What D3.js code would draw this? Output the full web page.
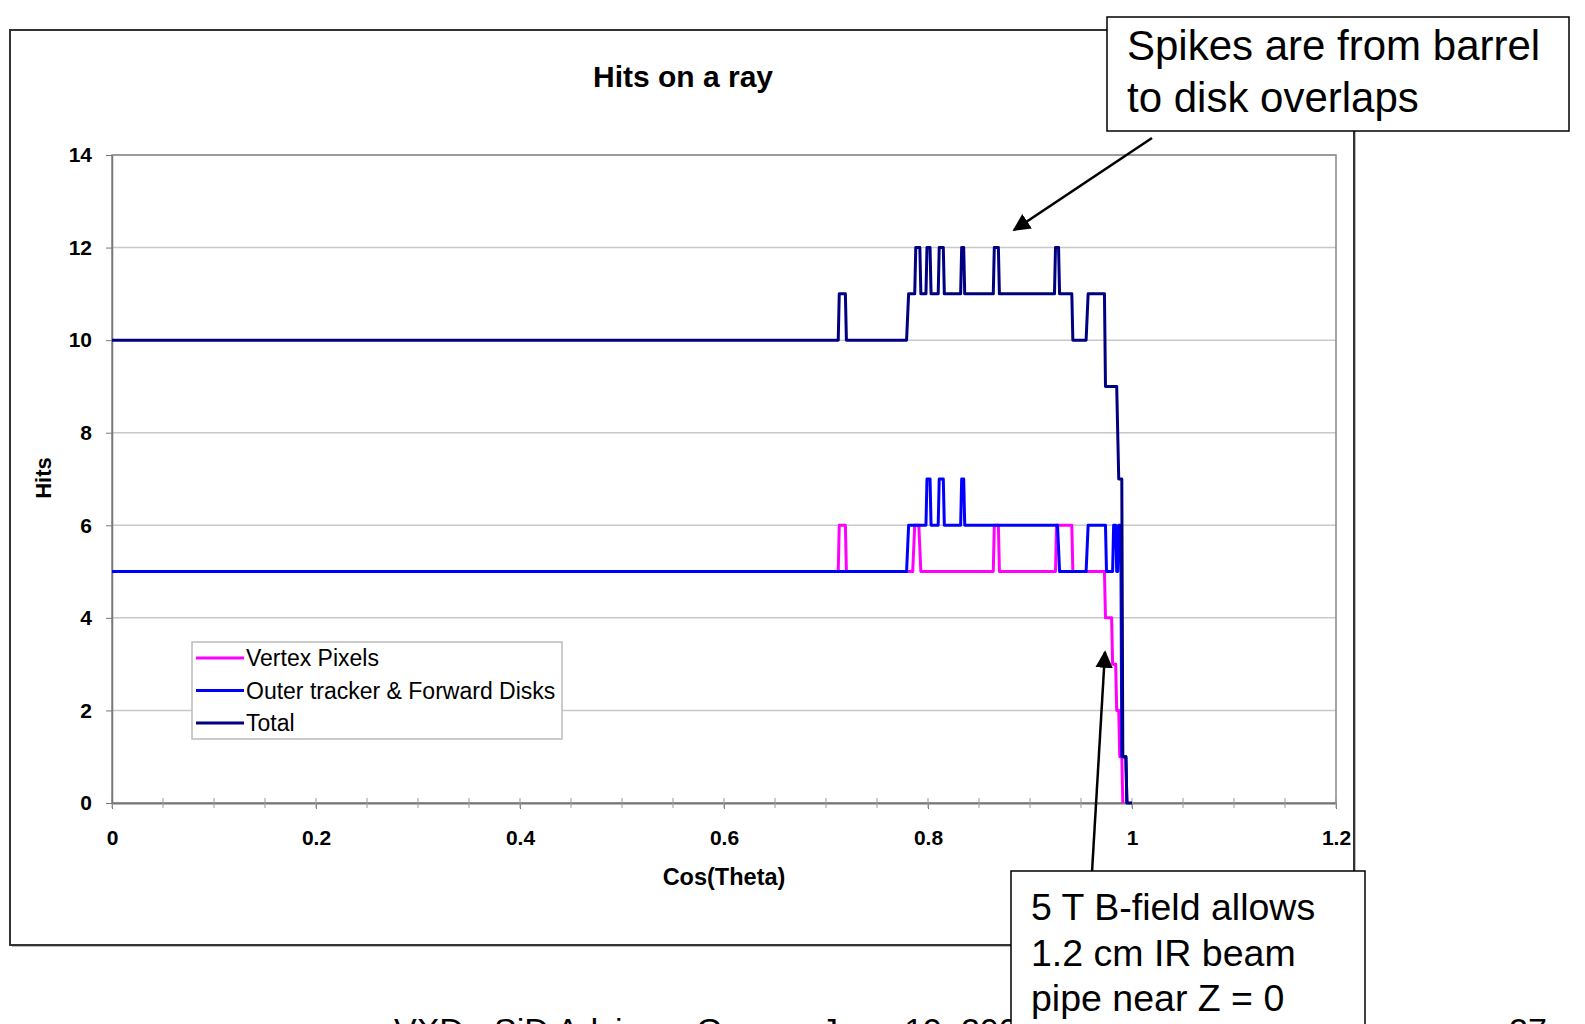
<!DOCTYPE html>
<html>
<head>
<meta charset="utf-8">
<script src="https://cdn.jsdelivr.net/npm/d3@7"></script>
<style>
  body { margin: 0; background: #fff; }
  svg { display: block; font-family: "Liberation Sans", Arial, sans-serif; }
</style>
</head>
<body>
<div id="chart"></div>
<script>
// Tick values / labels
const xTicks = [0, 0.2, 0.4, 0.6, 0.8, 1, 1.2];
const xTickLabels = ["0", "0.2", "0.4", "0.6", "0.8", "1", "1.2"];
const yTicks = [0, 2, 4, 6, 8, 10, 12, 14];

// Vertex Pixels (cos theta, hits)
const vertexX = [0, 0.712, 0.713, 0.719, 0.720, 0.785, 0.787, 0.791, 0.793, 0.864, 0.865, 0.869, 0.870,
  0.925, 0.926, 0.941, 0.942, 0.973, 0.974, 0.980, 0.981, 0.984, 0.985, 0.987, 0.988, 0.990, 0.991];
const vertexHits = [5, 5, 6, 6, 5, 5, 6, 6, 5, 5, 6, 6, 5,
  5, 6, 6, 5, 5, 4, 4, 3, 3, 2, 2, 1, 1, 0];

// Outer tracker & Forward Disks
const outerX = [0, 0.779, 0.781, 0.798, 0.799, 0.802, 0.803, 0.810, 0.811, 0.815, 0.816, 0.832, 0.833, 0.835, 0.836,
  0.927, 0.929, 0.955, 0.957, 0.974, 0.975, 0.981, 0.982, 0.984, 0.985, 0.986, 0.987, 0.989, 0.990, 0.994, 0.995];
const outerHits = [5, 5, 6, 6, 7, 7, 6, 6, 7, 7, 6, 6, 7, 7, 6,
  6, 5, 5, 6, 6, 5, 5, 6, 6, 5, 5, 6, 6, 1, 1, 0];

// Total
const totalX = [0, 0.712, 0.713, 0.719, 0.720, 0.779, 0.781, 0.787, 0.788, 0.792, 0.793, 0.798, 0.799, 0.802, 0.803,
  0.810, 0.811, 0.815, 0.816, 0.832, 0.833, 0.835, 0.836, 0.864, 0.865, 0.869, 0.870, 0.924, 0.925, 0.928, 0.929,
  0.941, 0.942, 0.955, 0.957, 0.973, 0.974, 0.985, 0.987, 0.990, 0.991, 0.994, 0.995, 1.0];
const totalHits = [10, 10, 11, 11, 10, 10, 11, 11, 12, 12, 11, 11, 12, 12, 11,
  11, 12, 12, 11, 11, 12, 12, 11, 11, 12, 12, 11, 11, 12, 12, 11,
  11, 10, 10, 11, 11, 9, 9, 7, 7, 1, 1, 0, 0];

const seriesNames = ["Vertex Pixels", "Outer tracker & Forward Disks", "Total"];
const seriesColors = ["#ff00ff", "#0000ff", "#000080"];

const W = 1585, H = 1024;
const svg = d3.select("#chart").append("svg").attr("width", W).attr("height", H);

// outer chart frame with a little shadow
svg.append("rect").attr("x", 12).attr("y", 32).attr("width", 1344).attr("height", 915).attr("fill", "#bbb");
svg.append("rect").attr("x", 10).attr("y", 30).attr("width", 1344).attr("height", 915)
  .attr("fill", "#fff").attr("stroke", "#333").attr("stroke-width", 2);

const x = d3.scaleLinear().domain([0, 1.2]).range([112, 1336]);
const y = d3.scaleLinear().domain([0, 14]).range([803, 155]);

// gridlines
svg.append("g").selectAll("line").data(yTicks.slice(1)).join("line")
  .attr("x1", x(0)).attr("x2", x(1.2))
  .attr("y1", d => y(d)).attr("y2", d => y(d))
  .attr("stroke", "#c8c8c8").attr("stroke-width", 1.5);

// plot area border
svg.append("rect").attr("x", x(0)).attr("y", y(14)).attr("width", x(1.2) - x(0)).attr("height", y(0) - y(14))
  .attr("fill", "none").attr("stroke", "#888").attr("stroke-width", 1.5);

// x axis
const xAxis = svg.append("g").attr("transform", `translate(0,${y(0)})`)
  .call(d3.axisBottom(x).tickValues(xTicks).tickFormat((d, i) => xTickLabels[i]).tickSize(6).tickSizeOuter(0));
xAxis.select(".domain").attr("stroke", "#777").attr("stroke-width", 2);
xAxis.selectAll(".tick line").attr("stroke", "#777");
xAxis.selectAll("text").attr("y", 42).attr("dy", 0).attr("fill", "#000")
  .style("font-size", "21px").style("font-weight", "bold").style("font-family", "Liberation Sans, Arial");

// minor x ticks
const minorX = d3.range(0, 1.2001, 0.05);
svg.append("g").selectAll("line").data(minorX).join("line")
  .attr("x1", d => x(d)).attr("x2", d => x(d))
  .attr("y1", y(0) - 5).attr("y2", y(0) + 5)
  .attr("stroke", "#999").attr("stroke-width", 1);

// y axis
const yAxis = svg.append("g").attr("transform", `translate(${x(0)},0)`)
  .call(d3.axisLeft(y).tickValues(yTicks).tickSize(6).tickSizeOuter(0));
yAxis.select(".domain").attr("stroke", "#777").attr("stroke-width", 1.5);
yAxis.selectAll(".tick line").attr("stroke", "#777");
yAxis.selectAll("text").attr("x", -20).attr("fill", "#000")
  .style("font-size", "21px").style("font-weight", "bold").style("font-family", "Liberation Sans, Arial");

// series
const line = d3.line().x(d => x(d[0])).y(d => y(d[1]));
const seriesData = [
  d3.zip(vertexX, vertexHits),
  d3.zip(outerX, outerHits),
  d3.zip(totalX, totalHits)
];
seriesData.forEach((pts, i) => {
  svg.append("path").datum(pts).attr("d", line)
    .attr("fill", "none").attr("stroke", seriesColors[i]).attr("stroke-width", 3)
    .attr("stroke-linejoin", "round");
});

// titles
svg.append("text").attr("x", 683).attr("y", 87).attr("text-anchor", "middle")
  .style("font-size", "30px").style("font-weight", "bold").text("Hits on a ray");
svg.append("text").attr("x", 724).attr("y", 885).attr("text-anchor", "middle")
  .style("font-size", "23.5px").style("font-weight", "bold").text("Cos(Theta)");
svg.append("text").attr("transform", "translate(51,478) rotate(-90)").attr("text-anchor", "middle")
  .style("font-size", "22px").style("font-weight", "bold").text("Hits");

// legend
const lg = svg.append("g");
lg.append("rect").attr("x", 192).attr("y", 642).attr("width", 370).attr("height", 97)
  .attr("fill", "#fff").attr("stroke", "#bbb").attr("stroke-width", 1.5);
seriesNames.forEach((name, i) => {
  const cy = 658 + i * 32.5;
  lg.append("line").attr("x1", 196).attr("x2", 244).attr("y1", cy).attr("y2", cy)
    .attr("stroke", seriesColors[i]).attr("stroke-width", 3);
  lg.append("text").attr("x", 246).attr("y", cy + 8).style("font-size", "23px").text(name);
});

// footer (cut off at page bottom, as in the slide)
svg.append("text").attr("x", 394).attr("y", 1042).style("font-size", "34px").text("VXD - SiD Advisory Group - June 19, 2006");
svg.append("text").attr("x", 1509).attr("y", 1042).style("font-size", "34px").text("27");

// arrows
const defs = svg.append("defs");
defs.append("marker").attr("id", "ah").attr("viewBox", "0 0 10 10").attr("refX", 9).attr("refY", 5)
  .attr("markerWidth", 7).attr("markerHeight", 7).attr("orient", "auto")
  .append("path").attr("d", "M0,0L10,5L0,10z").attr("fill", "#000");
svg.append("line").attr("x1", 1152).attr("y1", 138).attr("x2", 1014).attr("y2", 230)
  .attr("stroke", "#000").attr("stroke-width", 2.5).attr("marker-end", "url(#ah)");
svg.append("line").attr("x1", 1092).attr("y1", 872).attr("x2", 1105).attr("y2", 652)
  .attr("stroke", "#000").attr("stroke-width", 2.5).attr("marker-end", "url(#ah)");

// annotation boxes
svg.append("rect").attr("x", 1107).attr("y", 17).attr("width", 462).attr("height", 114)
  .attr("fill", "#fff").attr("stroke", "#000").attr("stroke-width", 1.5);
["Spikes are from barrel", "to disk overlaps"].forEach((t, i) => {
  svg.append("text").attr("x", 1127).attr("y", 60 + i * 52).style("font-size", "42px").text(t);
});
svg.append("rect").attr("x", 1011).attr("y", 871).attr("width", 354).attr("height", 170)
  .attr("fill", "#fff").attr("stroke", "#000").attr("stroke-width", 1.5);
["5 T B-field allows", "1.2 cm IR beam", "pipe near Z = 0"].forEach((t, i) => {
  svg.append("text").attr("x", 1031).attr("y", 920 + i * 45.5).style("font-size", "37.5px").text(t);
});
</script>
</body>
</html>
